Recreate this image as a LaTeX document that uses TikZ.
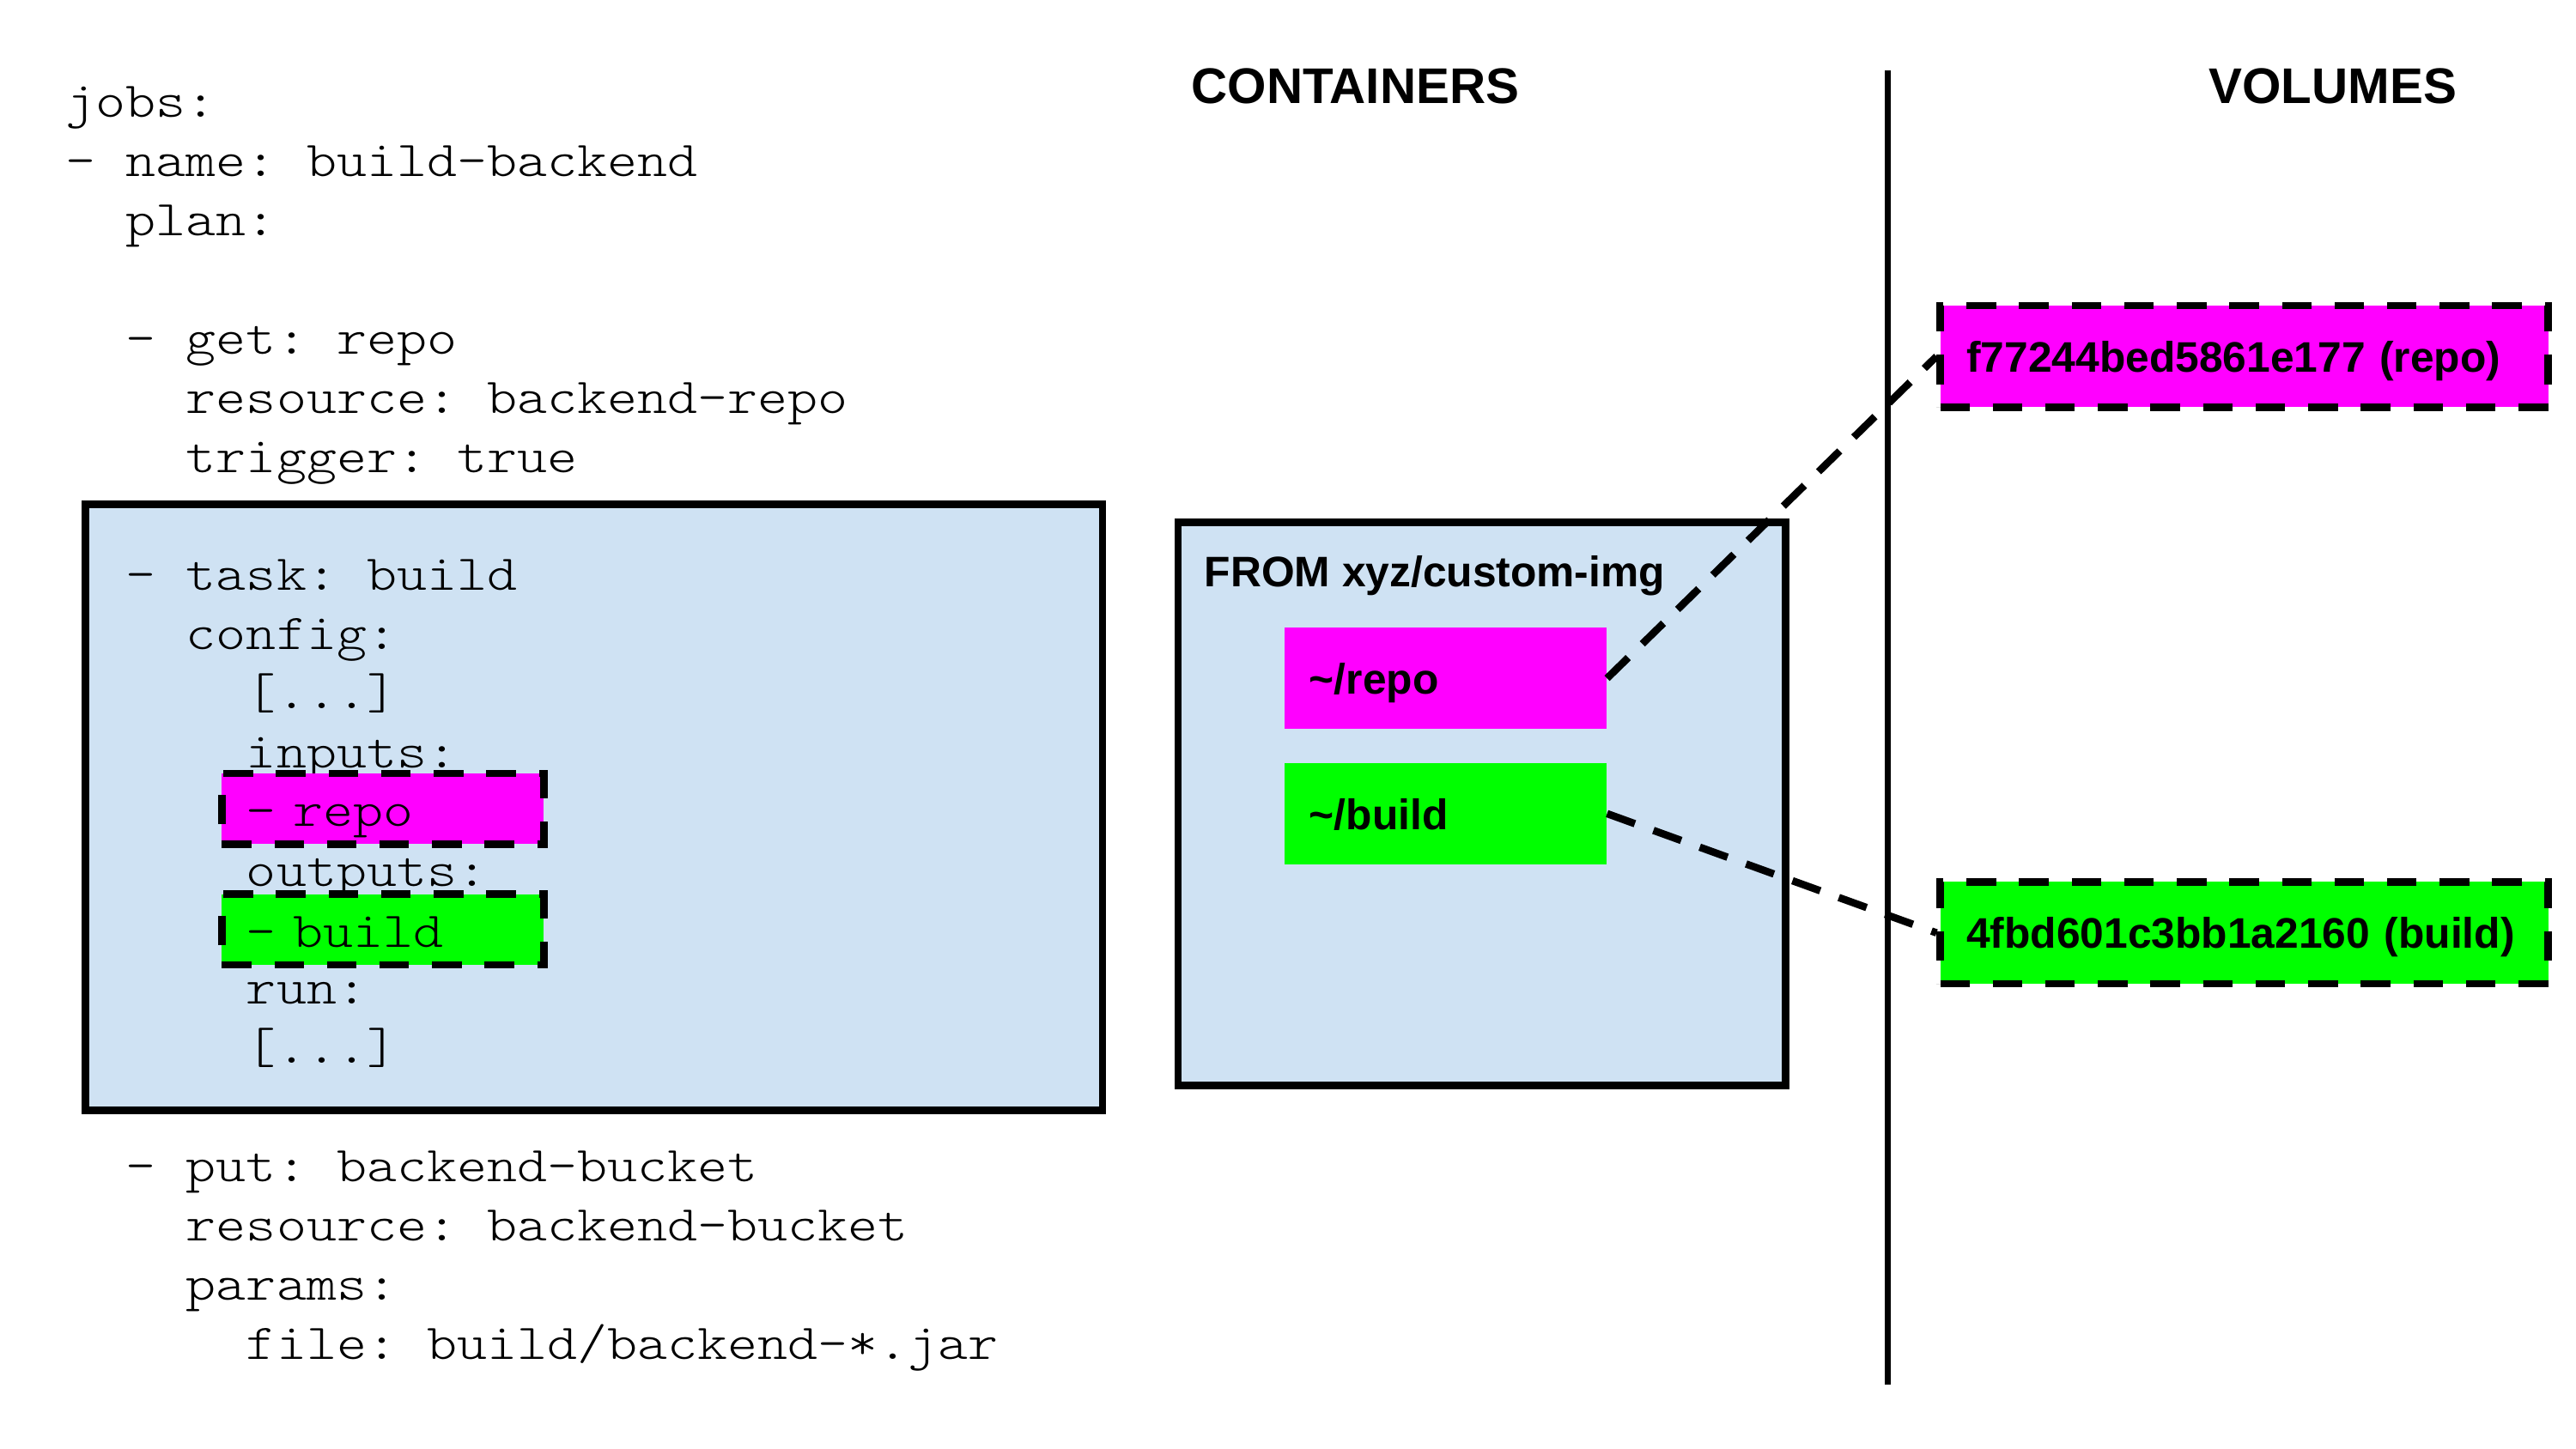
\documentclass[tikz,border=0pt]{standalone}
\usepackage{fontspec}
\newfontfamily\codefont{lmmonolt10-regular.otf}[FakeStretch=1.1429]
\newfontfamily\labelfont{Liberation Sans}
\usetikzlibrary{positioning}
\definecolor{paleblue}{HTML}{CFE2F3}
\definecolor{mountpink}{HTML}{FF00FF}
\definecolor{mountgreen}{HTML}{00FF00}
\tikzset{
  code/.style={anchor=base west, inner sep=0pt, font=\codefont\frenchspacing\fontsize{30.5}{36}\selectfont},
  heading/.style={anchor=base, inner sep=0pt, font=\labelfont\bfseries\fontsize{30.5}{36}\selectfont},
  panel/.style={draw, line width=4.5pt, fill=paleblue, inner sep=0pt},
  mount/.style={inner xsep=15pt, text width=166pt, align=left, minimum height=62pt,
    text height=19pt, text depth=0pt, font=\labelfont\bfseries\fontsize{26}{30}\selectfont},
  volume/.style={mount, draw, line width=4.5pt, dash pattern=on 18pt off 14pt,
    inner xsep=16pt, text width=338pt},
  hilite/.style={draw, line width=4.5pt, dash pattern=on 18pt off 14pt, inner xsep=15pt,
    text width=166pt, align=left, minimum height=43pt, text height=21pt, text depth=0pt,
    font=\codefont\frenchspacing\fontsize{30.5}{36}\selectfont},
  link/.style={line width=4.5pt, dash pattern=on 18pt off 12pt},
  divider/.style={line width=3.5pt}
}
\begin{document}
\begin{tikzpicture}[x=1pt,y=-1pt]
  \useasboundingbox (0,0) rectangle (1568,882);
  % pipeline yaml
  \node[panel, minimum width=619pt, minimum height=369pt] (taskbox) at (361.5,491.5) {};
  \foreach \k/\ind/\txt in {0/0/{jobs:}, 1/0/{- name: build-backend}, 2/2/{plan:},
      4/2/{- get: repo}, 5/4/{resource: backend-repo}, 6/4/{trigger: true},
      8/2/{- task: build}, 9/4/{config:}, 10/6/{[...]}, 11/6/{inputs:},
      13/6/{outputs:}, 15/6/{run:}, 16/6/{[...]},
      18/2/{- put: backend-bucket}, 19/4/{resource: backend-bucket},
      20/4/{params:}, 21/6/{file: build/backend-*.jar}}
    \node[code] (line\k) at ({40+18.3*\ind},{71.5+36*\k}) {\txt};
  \node[hilite, fill=mountpink] (inrepo) at (233,492.5) {- repo};
  \node[hilite, fill=mountgreen, below=26pt of inrepo] (outbuild) {- build};

  % containers and volumes
  \node[heading] (conthead) at (825,63) {CONTAINERS};
  \node[heading] (volhead) at (1420,63) {VOLUMES};
  \coordinate (divtop) at (1149,43);
  \coordinate (divbot) at (1149,843);
  \draw[divider] (divtop) -- (divbot);

  \node[panel, minimum width=370pt, minimum height=343pt] (cont) at (902,489.5) {};
  \node[anchor=base west, inner sep=0pt, font=\labelfont\bfseries\fontsize{26}{30}\selectfont]
    (from) at (733,357) {FROM xyz/custom-img};
  \node[mount, fill=mountpink] (mrepo) at (880,413) {\textasciitilde/repo};
  \node[mount, fill=mountgreen, below=20pt of mrepo] (mbuild) {\textasciitilde/build};

  \node[volume, fill=mountpink] (vrepo) at (1366,217) {f77244bed5861e177 (repo)};
  \node[volume, fill=mountgreen] (vbuild) at (1366,568) {4fbd601c3bb1a2160 (build)};

  \draw[link] (mrepo.east) -- (vrepo.west);
  \draw[link] (mbuild.east) -- (vbuild.west);
\end{tikzpicture}
\end{document}
